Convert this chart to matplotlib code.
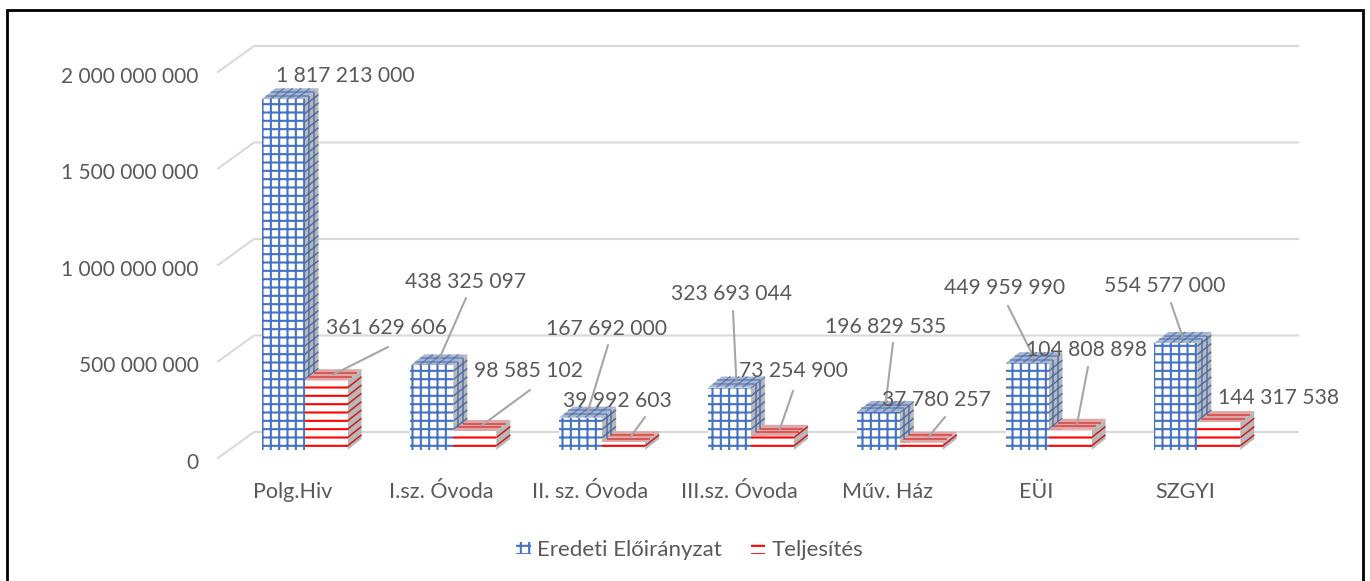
import matplotlib
matplotlib.use('Agg')
import matplotlib.pyplot as plt
import numpy as np
from matplotlib.collections import LineCollection
from matplotlib.patches import Polygon, Rectangle
from matplotlib.transforms import ScaledTranslation

categories = ["Polg.Hiv", "I.sz. Óvoda", "II. sz. Óvoda", "III.sz. Óvoda", "Műv. Ház", "EÜI", "SZGYI"]
eredeti = [1817213000, 438325097, 167692000, 323693044, 196829535, 449959990, 554577000]
teljesites = [361629606, 98585102, 39992603, 73254900, 37780257, 104808898, 144317538]
y_ticks = [0, 500000000, 1000000000, 1500000000, 2000000000]

# label centres and start of the leader line, in picture pixels
blue_label_pos = [(345, 76), (466, 282), (607, 329), (732, 294), (886, 327), (1005, 288), (1165, 286)]
blue_leader = [None, (466, 298), (608, 345), (733, 311), (893, 343), (1008, 306), (1171, 303)]
red_label_pos = [(387, 328), (529, 371), (617, 401), (793, 371), (936, 400), (1086, 350), (1279, 398)]
red_leader = [(388, 347), (530, 390), (645, 417), (793, 391), (945, 417), (1088, 367), None]

W, H = 1370, 581
PX_X = 148.8  # pixels per category
PX_V = 2e9 / 386  # value per pixel
BLUE, RED, GREY = '#4472c4', '#ff0000', '#595959'
FONT = 'Lato'

plt.rcParams['font.family'] = FONT
plt.rcParams['hatch.linewidth'] = 1.5

fig = plt.figure(figsize=(W / 100, H / 100), dpi=100, facecolor='white')
ax = fig.add_axes([218 / W, (H - 458) / H, (1298 - 218) / W, 386 / H])
ax.set_xlim((218 - 304.5) / PX_X, (1298 - 304.5) / PX_X)
ax.set_ylim(0, 2e9)
for s in ax.spines.values():
    s.set_visible(False)


def px(p):
    return (p[0] / W, 1 - p[1] / H)


# wall and floor grid
wall_dx, wall_dy = 36 / PX_X, 26 * PX_V
x0, x1 = ax.get_xlim()
for v in y_ticks:
    ax.plot([x0, x0 + wall_dx, x1], [v, v + wall_dy, v + wall_dy], color='#d9d9d9', lw=1.5,
            clip_on=False, zorder=1)

bar_w = 43 / PX_X
lift = 8 * PX_V
dx, dy = 14 / PX_X, 11 * PX_V
x = np.arange(len(categories))


def draw_depth(left, right, top, color, line, z, grid):
    # side and top faces of one bar
    step = 8.3 * PX_V
    side = [(right, lift), (right + dx, lift + dy), (right + dx, top + dy), (right, top)]
    ax.add_patch(Polygon(side, closed=True, fc='#b8b8b8', ec='none', zorder=z, clip_on=False))
    ys = np.arange(lift + step / 2, top, step)
    segs = [[(right, y), (right + dx, y + dy)] for y in ys]
    if grid:
        segs += [[(right + f * dx, lift + f * dy), (right + f * dx, top + f * dy)] for f in (0.33, 0.66)]
    ax.add_collection(LineCollection(segs, colors=line, linewidths=1.1, alpha=0.85, zorder=z, clip_on=False))
    top_face = [(left, top), (left + dx, top + dy), (right + dx, top + dy), (right, top)]
    ax.add_patch(Polygon(top_face, closed=True, fc=color, ec='none', zorder=z, clip_on=False))
    segs = [[(left + f * dx, top + f * dy), (right + f * dx, top + f * dy)] for f in (0.33, 0.66)]
    if grid:
        segs += [[(left + f * (right - left), top), (left + f * (right - left) + dx, top + dy)]
                 for f in (0.2, 0.4, 0.6, 0.8)]
    ax.add_collection(LineCollection(segs, colors=line, linewidths=1.1, alpha=0.6, zorder=z, clip_on=False))


for i in x:
    draw_depth(i - bar_w, i, lift + eredeti[i], '#a9b6d0', '#3f64a8', 2, True)
    draw_depth(i, i + bar_w, lift + teljesites[i], '#dfa6a6', '#d40000', 4, False)

b1 = ax.bar(x - bar_w / 2, eredeti, bar_w, bottom=lift, facecolor='white', edgecolor=BLUE,
            hatch='++', lw=0, zorder=3, label='Eredeti Előirányzat')
b2 = ax.bar(x + bar_w / 2, teljesites, bar_w, bottom=lift, facecolor='white', edgecolor=RED,
            hatch='--', lw=0, zorder=5, label='Teljesítés')

# data labels and leader lines
for vals, off, positions, leaders in [(eredeti, -bar_w / 2, blue_label_pos, blue_leader),
                                      (teljesites, bar_w / 2, red_label_pos, red_leader)]:
    for i, v in enumerate(vals):
        txt = f"{v:,}".replace(",", " ")
        fig.text(*px(positions[i]), txt, ha='center', va='center', color=GREY, fontsize=15.2, zorder=8)
        if leaders[i] is not None:
            ax.annotate('', xy=(i + off + dx / 2, lift + v + dy / 2), xytext=px(leaders[i]),
                        textcoords='figure fraction', annotation_clip=False, zorder=7,
                        arrowprops=dict(arrowstyle='-', color='#a6a6a6', lw=1.5, shrinkA=0, shrinkB=0))

ax.set_yticks(y_ticks)
ax.set_yticklabels([f"{v:,}".replace(",", " ") for v in y_ticks], color=GREY, fontsize=15)
ax.set_xticks(x - 12 / PX_X)
ax.set_xticklabels(categories, color=GREY, fontsize=15.5)
ax.tick_params(axis='y', length=0, pad=14)
ax.tick_params(axis='x', length=0, pad=17)
# y labels sit a little under the gridline level
shift = ScaledTranslation(0, -2 / 72, fig.dpi_scale_trans)
for lab in ax.get_yticklabels():
    lab.set_transform(lab.get_transform() + shift)

ax.legend(handles=[b1, b2], loc='center', bbox_to_anchor=px((690, 550)), bbox_transform=fig.transFigure,
          ncol=2, frameon=False, fontsize=16, labelcolor=GREY, handlelength=0.65, handleheight=0.5,
          handletextpad=0.3, columnspacing=1.3)

# black frame of the picture, its bottom edge is cut off
fig.add_artist(Rectangle((7 / W, -0.05), (1363 - 7) / W, 1.05 - 10 / H, transform=fig.transFigure,
                         fc='none', ec='black', lw=2))

fig.savefig('out.png', dpi=100)
